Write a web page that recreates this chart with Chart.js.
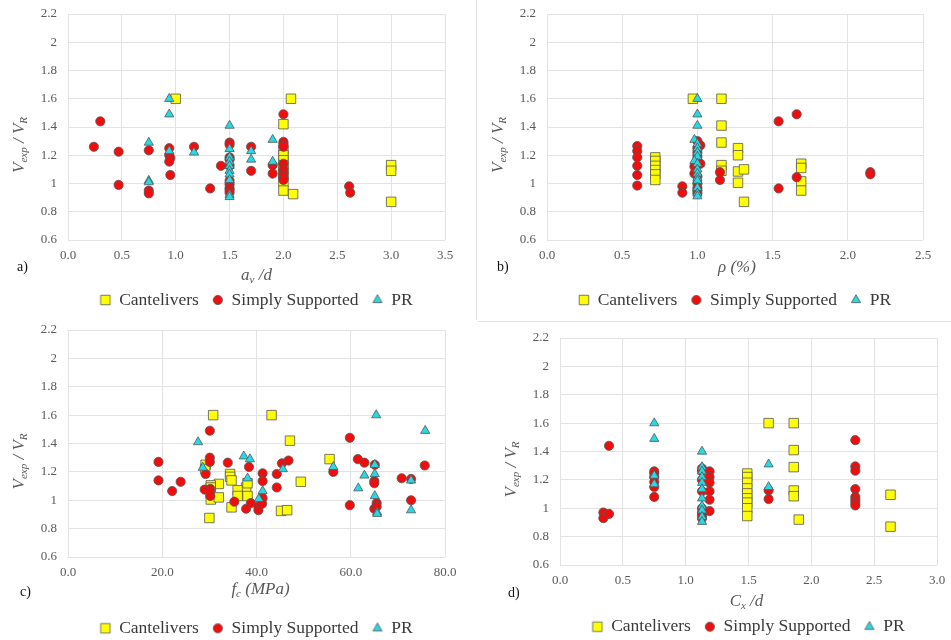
<!DOCTYPE html>
<html>
<head>
<meta charset="utf-8">
<script src="https://cdn.jsdelivr.net/npm/chart.js@4.4.1/dist/chart.umd.min.js"></script>
<style>
  html, body { margin: 0; padding: 0; background: #fff; width: 951px; height: 640px; overflow: hidden; }
  .panel { position: absolute; }
  .panel canvas { display: block; }
  .tag { position: absolute; font-family: 'Liberation Serif', serif; font-size: 14px; line-height: 16px; color: #111; }
  .rule { position: absolute; background: #e2e2e2; }
</style>
</head>
<body>
<div class="rule" style="left:476px;top:0;width:1px;height:320px"></div>
<div class="rule" style="left:478px;top:321px;width:473px;height:1px"></div>

<div class="panel" style="left:0;top:0"><canvas id="chartA" width="475" height="320"></canvas></div>
<div class="panel" style="left:475px;top:0"><canvas id="chartB" width="476" height="320"></canvas></div>
<div class="panel" style="left:0;top:320px"><canvas id="chartC" width="475" height="330"></canvas></div>
<div class="panel" style="left:475px;top:320px"><canvas id="chartD" width="476" height="330"></canvas></div>

<div class="tag" style="left:17px;top:259px">a)</div>
<div class="tag" style="left:497px;top:259px">b)</div>
<div class="tag" style="left:20px;top:584px">c)</div>
<div class="tag" style="left:508px;top:585px">d)</div>

<script>
// Series shown in every panel
const seriesNames = ['Cantelivers', 'Simply Supported', 'PR'];

// Shared vertical axis: V_exp / V_R
const yMin = 0.6;
const yMax = 2.2;
const yStep = 0.2;

// a) shear span ratio a_v/d  -> [x, Vexp/VR]
const avdCantilevers = [
  [1.0, 1.6], [2.07, 1.6], [2.0, 1.42], [2.0, 1.24], [2.0, 1.2], [2.0, 1.165], [2.0, 1.13],
  [2.0, 1.095], [2.0, 1.06], [2.0, 1.01], [2.0, 0.95], [2.09, 0.925], [3.0, 1.13], [3.0, 1.09], [3.0, 0.87]
];
const avdSimply = [
  [0.24, 1.26], [0.3, 1.44], [0.47, 1.225], [0.47, 0.99], [0.75, 1.235], [0.75, 0.95], [0.75, 0.93],
  [0.94, 1.25], [0.94, 1.2], [0.95, 1.18], [0.94, 1.155], [0.95, 1.06], [1.17, 1.26], [1.32, 0.965],
  [1.42, 1.125], [1.5, 1.29], [1.5, 1.275], [1.5, 1.185], [1.5, 1.17], [1.5, 1.125], [1.5, 1.02],
  [1.5, 0.995], [1.5, 0.97], [1.5, 0.955], [1.5, 0.935], [1.7, 1.26], [1.7, 1.09], [1.9, 1.13],
  [1.9, 1.07], [2.0, 1.49], [2.0, 1.295], [2.0, 1.28], [2.0, 1.26], [2.0, 1.14], [2.0, 1.1],
  [2.0, 1.07], [2.0, 1.045], [2.0, 1.025], [2.61, 0.98], [2.62, 0.935]
];
const avdPR = [
  [0.94, 1.6], [0.94, 1.49], [0.75, 1.29], [0.75, 1.02], [0.75, 1.01], [0.94, 1.23], [1.17, 1.22],
  [1.5, 1.41], [1.5, 1.245], [1.5, 1.185], [1.5, 1.155], [1.5, 1.125], [1.5, 1.09], [1.5, 1.065],
  [1.5, 1.025], [1.5, 0.92], [1.5, 0.905], [1.7, 1.23], [1.7, 1.17], [1.9, 1.31], [1.9, 1.155]
];

// b) reinforcement ratio rho (%)
const rhoCantilevers = [
  [0.72, 1.185], [0.72, 1.16], [0.72, 1.125], [0.72, 1.095], [0.72, 1.065], [0.72, 1.025],
  [0.97, 1.6], [1.16, 1.6], [1.16, 1.41], [1.16, 1.29], [1.16, 1.13], [1.16, 1.09],
  [1.27, 1.25], [1.27, 1.2], [1.27, 1.085], [1.27, 1.005], [1.31, 1.1], [1.31, 0.87],
  [1.69, 1.14], [1.69, 1.11], [1.69, 1.015], [1.69, 0.95]
];
const rhoSimply = [
  [0.6, 1.265], [0.6, 1.23], [0.6, 1.185], [0.6, 1.125], [0.6, 1.06], [0.6, 0.985],
  [0.9, 0.98], [0.9, 0.935], [1.0, 1.3], [1.02, 1.27], [1.0, 1.25], [1.0, 1.22], [1.0, 1.19],
  [1.02, 1.14], [0.98, 1.12], [0.98, 1.07], [1.0, 1.05], [1.0, 1.0], [1.0, 0.97], [1.0, 0.95],
  [1.0, 0.93], [1.15, 1.08], [1.15, 1.025], [1.54, 1.44], [1.54, 0.965], [1.66, 1.49],
  [1.66, 1.045], [2.15, 1.08], [2.15, 1.065]
];
const rhoPR = [
  [1.0, 1.6], [1.0, 1.49], [1.0, 1.41], [0.98, 1.31], [1.0, 1.28], [1.0, 1.25], [1.0, 1.22],
  [1.0, 1.19], [0.98, 1.16], [1.0, 1.14], [1.0, 1.1], [1.0, 1.07], [1.0, 1.04], [1.0, 1.02],
  [1.0, 0.97], [1.0, 0.93], [1.0, 0.91]
];

// c) concrete strength f_c (MPa)
const fcCantilevers = [
  [30.8, 1.6], [43.2, 1.6], [47.1, 1.42], [29.2, 1.25], [29.1, 1.22], [34.4, 1.185], [34.4, 1.165],
  [34.7, 1.14], [32.0, 1.115], [37.8, 1.09], [38.1, 1.12], [30.3, 1.105], [30.3, 1.09], [30.3, 1.005],
  [32.0, 1.02], [36.0, 1.07], [36.0, 1.03], [34.7, 0.95], [38.1, 1.03], [30.0, 0.875], [45.2, 0.925],
  [46.5, 0.93], [49.4, 1.13], [55.5, 1.29]
];
const fcSimply = [
  [19.2, 1.27], [19.2, 1.14], [22.1, 1.065], [23.9, 1.13], [29.2, 1.185], [30.1, 1.49], [30.1, 1.3],
  [30.1, 1.27], [29.0, 1.075], [30.2, 1.08], [30.1, 1.06], [30.2, 1.03], [33.9, 1.265], [35.3, 0.99],
  [37.8, 0.94], [38.4, 1.235], [38.8, 0.98], [40.4, 0.955], [40.4, 0.93], [41.3, 1.19], [41.3, 1.135],
  [41.3, 1.015], [41.2, 0.975], [44.3, 1.185], [44.3, 1.09], [45.4, 1.26], [46.8, 1.28], [56.3, 1.2],
  [59.8, 1.44], [59.8, 0.965], [61.5, 1.29], [62.9, 1.265], [65.1, 1.25], [65.0, 1.135], [65.0, 1.12],
  [65.0, 0.94], [65.5, 0.98], [65.5, 0.955], [70.8, 1.155], [72.8, 1.15], [72.8, 1.0], [75.7, 1.245]
];
const fcPR = [
  [27.6, 1.41], [28.6, 1.23], [37.3, 1.31], [38.6, 1.29], [38.1, 1.155], [41.3, 1.065], [40.5, 1.01],
  [45.6, 1.22], [56.3, 1.235], [61.6, 1.085], [62.9, 1.175], [65.4, 1.6], [65.1, 1.25], [65.1, 1.185],
  [65.1, 1.03], [65.6, 0.915], [65.6, 0.905], [72.8, 1.14], [72.8, 0.93], [75.8, 1.49]
];

// d) load position C_x/d
const cxdCantilevers = [
  [1.66, 1.6], [1.86, 1.6], [1.86, 1.41], [1.86, 1.29], [1.86, 1.125], [1.86, 1.085], [1.9, 0.92],
  [1.49, 1.245], [1.49, 1.22], [1.49, 1.18], [1.49, 1.14], [1.49, 1.105], [1.49, 1.07], [1.49, 1.04],
  [1.49, 1.0], [1.49, 0.945], [2.63, 1.095], [2.63, 0.87]
];
const cxdSimply = [
  [0.345, 0.97], [0.345, 0.93], [0.39, 1.44], [0.39, 0.96], [0.75, 1.26], [0.75, 1.245], [0.75, 1.22],
  [0.75, 1.185], [0.75, 1.15], [0.75, 1.08], [1.13, 1.28], [1.13, 1.26], [1.13, 1.2], [1.13, 1.12],
  [1.13, 1.0], [1.13, 0.97], [1.13, 0.95], [1.13, 0.93], [1.19, 1.26], [1.19, 1.22], [1.19, 1.18],
  [1.19, 1.12], [1.19, 1.06], [1.19, 0.98], [1.66, 1.125], [1.66, 1.065], [2.35, 1.48], [2.35, 1.295],
  [2.35, 1.265], [2.35, 1.135], [2.35, 1.08], [2.35, 1.06], [2.35, 1.04], [2.35, 1.02]
];
const cxdPR = [
  [0.75, 1.6], [0.75, 1.49], [0.75, 1.23], [0.75, 1.17], [1.13, 1.4], [1.13, 1.29], [1.13, 1.26],
  [1.13, 1.22], [1.13, 1.18], [1.13, 1.135], [1.13, 1.07], [1.13, 1.015], [1.13, 0.985], [1.13, 0.94],
  [1.13, 0.905], [1.66, 1.31], [1.66, 1.15]
];

// ---- styling ----
const SERIF = "'Liberation Serif', 'Times New Roman', serif";
const tickColor = '#595959';
const gridColor = '#e3e3e3';
const edgeColor = '#555555';
const markers = [
  { shape: 'rect', r: 6.7, fill: '#ffff00' },
  { shape: 'circle', r: 4.6, fill: '#f20d0d' },
  { shape: 'triangle', r: 5.3, fill: '#27d8e5' }
];

// small canvases used as legend swatches so they match the plotted markers
function swatch(m) {
  const c = document.createElement('canvas');
  c.width = 14; c.height = 14;
  const g = c.getContext('2d');
  g.fillStyle = m.fill; g.strokeStyle = edgeColor; g.lineWidth = 0.8;
  g.beginPath();
  if (m.shape === 'rect') {
    const s = m.r * Math.SQRT1_2;
    g.rect(7 - s, 7 - s, 2 * s, 2 * s);
  } else if (m.shape === 'circle') {
    g.arc(7, 7, m.r, 0, Math.PI * 2);
  } else {
    const r = m.r;
    g.moveTo(7, 7 - r);
    g.lineTo(7 + r * Math.sin(2 * Math.PI / 3), 7 + r / 2);
    g.lineTo(7 - r * Math.sin(2 * Math.PI / 3), 7 + r / 2);
    g.closePath();
  }
  g.fill(); g.stroke();
  return c;
}
const swatches = markers.map(swatch);

// text with italic subscripts: parts are [text, isSub]
function drawRich(ctx, parts, cx, cy) {
  const fonts = ["italic 17px " + SERIF, "italic 11px " + SERIF];
  let total = 0;
  parts.forEach(([t, s]) => { ctx.font = fonts[s]; total += ctx.measureText(t).width; });
  let x = cx - total / 2;
  ctx.textAlign = 'left';
  ctx.textBaseline = 'middle';
  parts.forEach(([t, s]) => {
    ctx.font = fonts[s];
    ctx.fillText(t, x, cy + (s ? 4.5 : 0));
    x += ctx.measureText(t).width;
  });
}

const axisTitles = {
  id: 'axisTitles',
  afterDraw(chart, args, opts) {
    const { ctx, chartArea: a } = chart;
    ctx.save();
    ctx.fillStyle = tickColor;
    drawRich(ctx, opts.x, (a.left + a.right) / 2 + opts.xDx, a.bottom + opts.xDy);
    ctx.translate(a.left - 48, (a.top + a.bottom) / 2 + 18);
    ctx.rotate(-Math.PI / 2);
    drawRich(ctx, [['V', 0], ['exp', 1], [' / ', 0], ['V', 0], ['R', 1]], 0, 0);
    ctx.restore();
  }
};

const LEGEND_FONT = 17.5;
const LEGEND_PAD = 14;

function makeChart(p) {
  const legendTop = p.legendY - LEGEND_PAD - LEGEND_FONT / 2;
  const legendBottom = p.legendY + LEGEND_FONT / 2 + 10;
  const W = p.width, H = p.height;
  new Chart(document.getElementById(p.id), {
    type: 'scatter',
    data: {
      datasets: p.series.map((pts, i) => ({
        label: seriesNames[i],
        data: pts.map(([x, y]) => ({ x, y })),
        pointStyle: markers[i].shape,
        pointRadius: markers[i].r,
        pointHoverRadius: markers[i].r,
        backgroundColor: markers[i].fill,
        borderColor: edgeColor,
        borderWidth: 0.8,
        order: 3 - i
      }))
    },
    options: {
      responsive: false,
      animation: false,
      events: [],
      devicePixelRatio: 1,
      layout: { padding: { left: 0, top: p.top, right: W - p.right, bottom: H - legendBottom } },
      scales: {
        x: {
          type: 'linear', position: 'bottom', min: p.xMin, max: p.xMax,
          ticks: {
            stepSize: p.xStep, padding: 8, color: tickColor, maxRotation: 0, autoSkip: false,
            font: { family: SERIF, size: 13 },
            callback: v => Number(v).toFixed(1)
          },
          grid: { color: gridColor, drawTicks: false, lineWidth: 1 },
          border: { display: false },
          afterFit(s) {
            s.height = legendTop - p.bottom;
            s.paddingLeft = 0; s.paddingRight = 0; s.paddingTop = 0; s.paddingBottom = 0;
          }
        },
        y: {
          type: 'linear', min: yMin, max: yMax,
          ticks: {
            stepSize: yStep, padding: 11, color: tickColor,
            font: { family: SERIF, size: 13 },
            callback: v => String(Math.round(v * 10) / 10)
          },
          grid: { color: gridColor, drawTicks: false, lineWidth: 1 },
          border: { display: false },
          afterFit(s) {
            s.width = p.left;
            s.paddingLeft = 0; s.paddingRight = 0; s.paddingTop = 0; s.paddingBottom = 0;
          }
        }
      },
      plugins: {
        tooltip: { enabled: false },
        legend: {
          position: 'bottom',
          fullSize: false,
          labels: {
            usePointStyle: true,
            boxWidth: 10,
            boxHeight: 10,
            padding: LEGEND_PAD,
            color: '#3a3a3a',
            font: { family: SERIF, size: LEGEND_FONT },
            sort: (a, b) => a.datasetIndex - b.datasetIndex,
            generateLabels(chart) {
              const items = Chart.defaults.plugins.legend.labels.generateLabels(chart);
              items.forEach(it => { it.pointStyle = swatches[it.datasetIndex]; });
              return items;
            }
          }
        },
        axisTitles: { x: p.xTitle, xDx: p.xDx, xDy: p.xDy }
      }
    },
    plugins: [axisTitles]
  });
}

makeChart({
  id: 'chartA', width: 475, height: 320, left: 68, top: 14, right: 445, bottom: 240, legendY: 300,
  xMin: 0, xMax: 3.5, xStep: 0.5, series: [avdCantilevers, avdSimply, avdPR],
  xTitle: [['a', 0], ['v', 1], [' /d', 0]], xDx: 0, xDy: 36
});
makeChart({
  id: 'chartB', width: 476, height: 320, left: 72, top: 14, right: 448, bottom: 240, legendY: 300,
  xMin: 0, xMax: 2.5, xStep: 0.5, series: [rhoCantilevers, rhoSimply, rhoPR],
  xTitle: [['\u03C1 (%)', 0]], xDx: 2, xDy: 28
});
makeChart({
  id: 'chartC', width: 475, height: 330, left: 68, top: 10, right: 445, bottom: 237, legendY: 308.3,
  xMin: 0, xMax: 80, xStep: 20, series: [fcCantilevers, fcSimply, fcPR],
  xTitle: [['f', 0], ['c', 1], [' (MPa)', 0]], xDx: 4, xDy: 33
});
makeChart({
  id: 'chartD', width: 476, height: 330, left: 85, top: 18, right: 462, bottom: 245, legendY: 306.7,
  xMin: 0, xMax: 3.0, xStep: 0.5, series: [cxdCantilevers, cxdSimply, cxdPR],
  xTitle: [['C', 0], ['x', 1], [' /d', 0]], xDx: -2, xDy: 37
});
</script>
</body>
</html>
